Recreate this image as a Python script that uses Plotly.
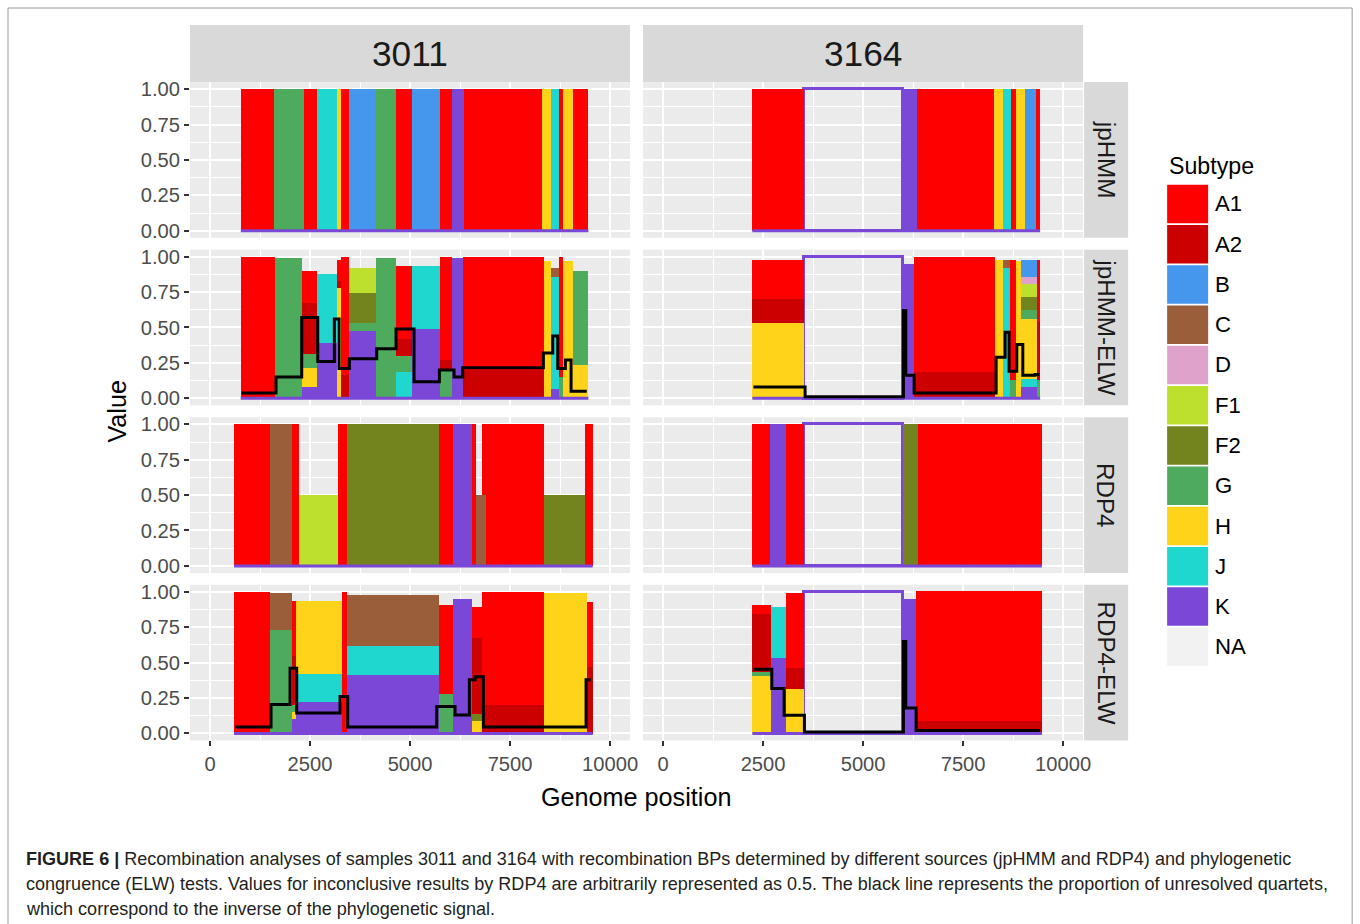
import plotly.graph_objects as go

W, H = 1360, 924
FONT = "Liberation Sans, Arial, Helvetica, sans-serif"

# ---------------- data ----------------
SUBTYPES = ["A1", "A2", "B", "C", "D", "F1", "F2", "G", "H", "J", "K"]
COLORS = {"A1": "#FF0000", "A2": "#CC0000", "B": "#4597EE", "C": "#9B5E3A",
          "D": "#DFA3CB", "F1": "#BDE02E", "F2": "#73831D", "G": "#4EAA5C",
          "H": "#FFD31A", "J": "#1FD7CF", "K": "#7A47D6"}
STACK_ORDER = ["NA", "K", "J", "H", "G", "F2", "F1", "D", "C", "B", "A2", "A1"]

SAMPLES = ["3011", "3164"]
METHODS = ["jpHMM", "jpHMM-ELW", "RDP4", "RDP4-ELW"]

X_TICKS = [0, 2500, 5000, 7500, 10000]
X_MINOR = [1250, 3750, 6250, 8750]
Y_TICKS = [0, 0.25, 0.5, 0.75, 1.0]
Y_TICK_TEXT = ["0.00", "0.25", "0.50", "0.75", "1.00"]
Y_MINOR = [0.125, 0.375, 0.625, 0.875]

# ---- sample 3011 ----
S3011_JPHMM_BREAKS = [770, 1600, 2350, 2675, 3167, 3275, 3467, 4125, 4650, 5050,
                      5750, 6058, 6350, 8300, 8525, 8717, 8833, 9067, 9458]
S3011_JPHMM_COMP = [{"A1": 1}, {"G": 1}, {"A1": 1}, {"J": 1}, {"H": 1}, {"A1": 1},
                    {"B": 1}, {"G": 1}, {"A1": 1}, {"B": 1}, {"A1": 1}, {"K": 1},
                    {"A1": 1}, {"H": 1}, {"J": 1}, {"A1": 1}, {"H": 1}, {"A1": 1}]

S3011_JPELW_BREAKS = [767, 1625, 2292, 2675, 3167, 3275, 3467, 4142, 4650, 5050,
                      5750, 6058, 6333, 8358, 8525, 8717, 8833, 9067, 9458]
S3011_JPELW_COMP = [
    {"A1": 1.0},
    {"G": 0.99},
    {"K": 0.085, "H": 0.13, "G": 0.10, "A2": 0.36, "A1": 0.23},
    {"K": 0.39, "J": 0.49},
    {"H": 0.78, "A2": 0.05, "A1": 0.15},
    {"A2": 0.17, "A1": 0.83},
    {"K": 0.475, "G": 0.06, "F2": 0.21, "F1": 0.18},
    {"G": 0.99},
    {"J": 0.19, "G": 0.11, "A2": 0.12, "A1": 0.52},
    {"K": 0.49, "J": 0.45},
    {"G": 0.20, "A2": 0.07, "A1": 0.73},
    {"K": 0.99},
    {"A2": 0.20, "A1": 0.80},
    {"H": 0.97},
    {"K": 0.07, "J": 0.79, "C": 0.06},
    {"G": 0.15, "A1": 0.85},
    {"H": 0.97},
    {"H": 0.24, "G": 0.66},
]
S3011_JPELW_LINE_X = [791, 1650, 2292, 2692, 3108, 3225, 3483, 4167, 4650, 5100,
                      5733, 6100, 6317, 8333, 8567, 8692, 8883, 9025, 9417]
S3011_JPELW_LINE_Y = [0.038, 0.15, 0.57, 0.26, 0.56, 0.21, 0.28, 0.35, 0.49, 0.116,
                      0.20, 0.15, 0.215, 0.32, 0.44, 0.21, 0.27, 0.05]

S3011_RDP_BREAKS = [600, 1500, 2042, 2225, 3208, 3425, 5725, 6083, 6542, 6650,
                    6808, 6892, 8358, 9375, 9567]
S3011_RDP_COMP = [{"A1": 1}, {"C": 1}, {"A1": 1}, {"F1": 0.5}, {"A1": 1}, {"F2": 1},
                  {"A1": 1}, {"K": 1}, {"A1": 1}, {"C": 0.5}, {"C": 0.5, "A1": 0.5},
                  {"A1": 1}, {"F2": 0.5}, {"A1": 1}]

S3011_RDPELW_BREAKS = [600, 1500, 2042, 2150, 3292, 3417, 5725, 6083, 6542, 6808,
                       8358, 9417, 9567]
S3011_RDPELW_COMP = [
    {"A1": 1.0},
    {"G": 0.735, "C": 0.255},
    {"K": 0.10, "H": 0.05, "G": 0.05, "A2": 0.35, "A1": 0.39},
    {"K": 0.22, "J": 0.20, "H": 0.52},
    {"A1": 1.0},
    {"K": 0.416, "J": 0.20, "C": 0.36},
    {"G": 0.28, "A1": 0.63},
    {"K": 0.95},
    {"H": 0.087, "F2": 0.05, "A2": 0.54, "A1": 0.22},
    {"A2": 0.20, "A1": 0.80},
    {"H": 0.99},
    {"A2": 0.47, "A1": 0.46},
]
S3011_RDPELW_LINE_X = [625, 1525, 2000, 2167, 3250, 3442, 5667, 6125, 6483, 6625,
                       6833, 9400, 9517]
S3011_RDPELW_LINE_Y = [0.045, 0.205, 0.46, 0.145, 0.26, 0.045, 0.19, 0.13, 0.38,
                       0.40, 0.045, 0.38]

# ---- sample 3164 ----
S3164_JPHMM_BREAKS = [2233, 3533, 6008, 6342, 8283, 8508, 8700, 8817, 9050, 9325, 9425]
S3164_JPHMM_COMP = [{"A1": 1}, {"NA": 1}, {"K": 1}, {"A1": 1}, {"H": 1}, {"J": 1},
                    {"A1": 1}, {"H": 1}, {"B": 1}, {"A1": 1}]

S3164_JPELW_BREAKS = [2233, 3533, 6008, 6275, 8300, 8508, 8675, 8817, 8950, 9342, 9425]
S3164_JPELW_COMP = [
    {"H": 0.534, "A2": 0.17, "A1": 0.277},
    {"NA": 1.0},
    {"K": 0.95},
    {"A2": 0.19, "A1": 0.81},
    {"H": 0.98},
    {"J": 0.92, "C": 0.06},
    {"G": 0.13, "A1": 0.85},
    {"H": 0.97},
    {"K": 0.08, "J": 0.06, "H": 0.425, "G": 0.06, "F2": 0.095, "F1": 0.087,
     "D": 0.054, "B": 0.118},
    {"G": 0.13, "A2": 0.41, "A1": 0.44},
]
S3164_JPELW_LINE_X = [2258, 3550, 6008, 6067, 6275, 8325, 8550, 8650, 8842, 8992,
                      9300, 9408]
S3164_JPELW_LINE_Y = [0.08, 0.01, 0.62, 0.163, 0.038, 0.29, 0.466, 0.19, 0.38,
                      0.163, 0.168]

S3164_RDP_BREAKS = [2233, 2675, 3075, 3533, 6008, 6383, 9467]
S3164_RDP_COMP = [{"A1": 1}, {"K": 1}, {"A1": 1}, {"NA": 1}, {"F2": 1}, {"A1": 1}]

S3164_RDPELW_BREAKS = [2233, 2692, 3075, 3533, 6008, 6325, 9467]
S3164_RDPELW_COMP = [
    {"H": 0.404, "G": 0.03, "A2": 0.41, "A1": 0.066},
    {"K": 0.537, "J": 0.355},
    {"H": 0.317, "A2": 0.149, "A1": 0.525},
    {"NA": 1.0},
    {"K": 0.95},
    {"A2": 0.087, "A1": 0.92},
]
S3164_RDPELW_LINE_X = [2258, 2717, 3025, 3533, 6008, 6067, 6325, 9425]
S3164_RDPELW_LINE_Y = [0.454, 0.317, 0.128, 0.01, 0.65, 0.18, 0.021]

CAPTION_LINES = [
    "<b>FIGURE 6 |</b> Recombination analyses of samples 3011 and 3164 with recombination BPs determined by different sources (jpHMM and RDP4) and phylogenetic",
    "congruence (ELW) tests. Values for inconclusive results by RDP4 are arbitrarily represented as 0.5. The black line represents the proportion of unresolved quartets,",
    "which correspond to the inverse of the phylogenetic signal.",
]

PANELS = [
    # (row, col, breaks, comps, line_x, line_y)
    (0, 0, S3011_JPHMM_BREAKS, S3011_JPHMM_COMP, None, None),
    (1, 0, S3011_JPELW_BREAKS, S3011_JPELW_COMP, S3011_JPELW_LINE_X, S3011_JPELW_LINE_Y),
    (2, 0, S3011_RDP_BREAKS, S3011_RDP_COMP, None, None),
    (3, 0, S3011_RDPELW_BREAKS, S3011_RDPELW_COMP, S3011_RDPELW_LINE_X, S3011_RDPELW_LINE_Y),
    (0, 1, S3164_JPHMM_BREAKS, S3164_JPHMM_COMP, None, None),
    (1, 1, S3164_JPELW_BREAKS, S3164_JPELW_COMP, S3164_JPELW_LINE_X, S3164_JPELW_LINE_Y),
    (2, 1, S3164_RDP_BREAKS, S3164_RDP_COMP, None, None),
    (3, 1, S3164_RDPELW_BREAKS, S3164_RDPELW_COMP, S3164_RDPELW_LINE_X, S3164_RDPELW_LINE_Y),
]

# ---------------- layout geometry (target pixels) ----------------
COL_X = [(190, 630), (643, 1083)]
ROW_TOP = [82, 249.3, 416.7, 584]
PANEL_H = 155.5
STRIP_TOP = 25
RSTRIP_X = (1084, 1128)

# the photographed page comes out slightly scaled; compensate
SX, SY, OY = 0.994, 0.990, 4.0
FS = 1 / 0.992


def px(x):
    return (x / SX) / W


def py(y):
    return 1 - ((y - OY) / SY) / H


fig = go.Figure()
layout = dict(
    width=W, height=H,
    margin=dict(l=0, r=0, t=0, b=0),
    paper_bgcolor="white",
    plot_bgcolor="#EBEBEB",
    barmode="stack",
    bargap=0,
    showlegend=False,
    font=dict(family=FONT, color="#1A1A1A"),
)

for row, col, breaks, comps, lx, ly in PANELS:
    idx = row * 2 + col + 1
    xa = "x" if idx == 1 else f"x{idx}"
    ya = "y" if idx == 1 else f"y{idx}"
    mids = [(a + b) / 2 for a, b in zip(breaks[:-1], breaks[1:])]
    widths = [b - a for a, b in zip(breaks[:-1], breaks[1:])]
    for st in STACK_ORDER:
        xs, ys, ws = [], [], []
        for m, w, c in zip(mids, widths, comps):
            if c.get(st, 0) > 0:
                xs.append(m)
                ys.append(c[st])
                ws.append(w)
        if not xs:
            continue
        if st == "NA":
            fig.add_trace(go.Bar(x=xs, y=ys, width=ws, xaxis=xa, yaxis=ya,
                                 marker=dict(color="rgba(0,0,0,0)",
                                             line=dict(color=COLORS["K"], width=3)),
                                 hoverinfo="skip"))
        else:
            fig.add_trace(go.Bar(x=xs, y=ys, width=ws, xaxis=xa, yaxis=ya,
                                 marker=dict(color=COLORS[st], line=dict(width=0)),
                                 name=st))
    # purple baseline along the data extent
    fig.add_trace(go.Scatter(x=[breaks[0], breaks[-1]], y=[0, 0], xaxis=xa, yaxis=ya,
                             mode="lines", line=dict(color=COLORS["K"], width=3),
                             hoverinfo="skip"))
    if lx is not None:
        fig.add_trace(go.Scatter(x=lx, y=list(ly) + [ly[-1]], xaxis=xa, yaxis=ya,
                                 mode="lines", line=dict(color="black", width=3, shape="hv"),
                                 hoverinfo="skip"))

    x0, x1 = COL_X[col]
    top = ROW_TOP[row]
    bottom = top + PANEL_H
    xkey = "xaxis" if idx == 1 else f"xaxis{idx}"
    ykey = "yaxis" if idx == 1 else f"yaxis{idx}"
    bottom_row = row == 3
    left_col = col == 0
    layout[xkey] = dict(
        domain=[px(x0), px(x1)], anchor=ya, range=[-500, 10500],
        tickvals=X_TICKS, ticktext=[str(v) for v in X_TICKS],
        showticklabels=bottom_row, ticks="outside" if bottom_row else "",
        ticklen=5, tickwidth=2, tickcolor="#333333",
        tickfont=dict(size=20 * FS, color="#4D4D4D", family=FONT),
        showgrid=True, gridcolor="white", gridwidth=2, zeroline=False,
        showline=False,
        minor=dict(tickvals=X_MINOR, showgrid=True, gridcolor="white", gridwidth=1, ticks=""),
        fixedrange=True,
    )
    layout[ykey] = dict(
        domain=[py(bottom), py(top)], anchor=xa, range=[-0.05, 1.05],
        tickvals=Y_TICKS, ticktext=Y_TICK_TEXT,
        showticklabels=left_col, ticks="outside" if left_col else "",
        ticklen=5, tickwidth=2, tickcolor="#333333",
        tickfont=dict(size=20 * FS, color="#4D4D4D", family=FONT),
        showgrid=True, gridcolor="white", gridwidth=2, zeroline=False,
        showline=False,
        minor=dict(tickvals=Y_MINOR, showgrid=True, gridcolor="white", gridwidth=1, ticks=""),
        fixedrange=True,
    )

shapes = []
annotations = []

# top strips
for c, name in enumerate(SAMPLES):
    x0, x1 = COL_X[c]
    shapes.append(dict(type="rect", xref="paper", yref="paper",
                       x0=px(x0), x1=px(x1), y0=py(ROW_TOP[0]), y1=py(STRIP_TOP),
                       fillcolor="#D9D9D9", line=dict(width=0), layer="below"))
    annotations.append(dict(text=name, xref="paper", yref="paper",
                            x=px((x0 + x1) / 2), y=py((STRIP_TOP + ROW_TOP[0]) / 2),
                            showarrow=False, font=dict(size=35 * FS, color="#1A1A1A", family=FONT),
                            xanchor="center", yanchor="middle"))
# right strips
for r, name in enumerate(METHODS):
    top = ROW_TOP[r]
    shapes.append(dict(type="rect", xref="paper", yref="paper",
                       x0=px(RSTRIP_X[0]), x1=px(RSTRIP_X[1]), y0=py(top + PANEL_H), y1=py(top),
                       fillcolor="#D9D9D9", line=dict(width=0), layer="below"))
    annotations.append(dict(text=name, xref="paper", yref="paper",
                            x=px((RSTRIP_X[0] + RSTRIP_X[1]) / 2), y=py(top + PANEL_H / 2),
                            showarrow=False, textangle=90,
                            font=dict(size=24 * FS, color="#1A1A1A", family=FONT),
                            xanchor="center", yanchor="middle"))

# axis titles
annotations.append(dict(text="Value", xref="paper", yref="paper", x=px(117), y=py(411),
                        showarrow=False, textangle=-90,
                        font=dict(size=25 * FS, color="black", family=FONT),
                        xanchor="center", yanchor="middle"))
annotations.append(dict(text="Genome position", xref="paper", yref="paper", x=px(636), y=py(796),
                        showarrow=False, font=dict(size=25 * FS, color="black", family=FONT),
                        xanchor="center", yanchor="middle"))

# legend (drawn manually to match ggplot key size)
annotations.append(dict(text="Subtype", xref="paper", yref="paper", x=px(1167), y=py(166),
                        showarrow=False, font=dict(size=23 * FS, color="black", family=FONT),
                        xanchor="left", yanchor="middle"))
KEY_TOP, KEY_STEP, KEY_H = 184.5, 40.2, 38.4
for i, st in enumerate(SUBTYPES + ["NA"]):
    y0 = KEY_TOP + KEY_STEP * i
    y1 = y0 + KEY_H
    fill = COLORS.get(st, "#F2F2F2")
    shapes.append(dict(type="rect", xref="paper", yref="paper",
                       x0=px(1167), x1=px(1208), y0=py(y1), y1=py(y0),
                       fillcolor=fill, line=dict(width=0)))
    annotations.append(dict(text=st, xref="paper", yref="paper", x=px(1213), y=py((y0 + y1) / 2),
                            showarrow=False, font=dict(size=22 * FS, color="black", family=FONT),
                            xanchor="left", yanchor="middle"))

# caption
for i, line in enumerate(CAPTION_LINES):
    annotations.append(dict(text=line, xref="paper", yref="paper", x=px(24), y=py(858 + 25 * i),
                            showarrow=False, font=dict(size=17.9 * FS, color="#231F20", family=FONT),
                            xanchor="left", yanchor="middle", align="left"))

# outer frame
for (xa0, ya0, xa1, ya1) in [(8, 8, 1352, 8), (8, 8, 8, 930), (1352, 8, 1352, 930)]:
    shapes.append(dict(type="line", xref="paper", yref="paper",
                       x0=px(xa0), y0=py(ya0), x1=px(xa1), y1=py(ya1),
                       line=dict(color="#9A9A9A", width=1)))

layout["shapes"] = shapes
layout["annotations"] = annotations
fig.update_layout(**layout)

POST_JS = (
    "var gd=document.getElementById('{plot_id}');"
    "gd.style.position='fixed';gd.style.top='0px';gd.style.left='0px';"
    "document.documentElement.style.margin='0';document.body.style.margin='0';"
    "document.documentElement.style.overflow='hidden';document.body.style.overflow='hidden';"
    "document.documentElement.style.height='924px';document.body.style.height='924px';"
)

fig.write_html("out.html", config={"displayModeBar": False}, post_script=POST_JS)
